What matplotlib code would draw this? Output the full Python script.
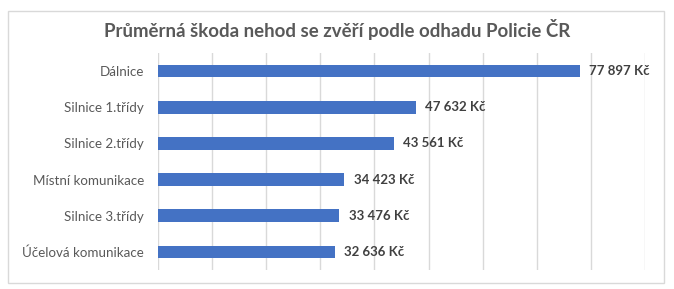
import matplotlib.pyplot as plt
from matplotlib.patches import Rectangle

# data
kategorie = ['Dálnice', 'Silnice 1.třídy', 'Silnice 2.třídy',
             'Místní komunikace', 'Silnice 3.třídy', 'Účelová komunikace']
skoda = [77897, 47632, 43561, 34423, 33476, 32636]

plt.rcParams['font.family'] = ['Lato', 'DejaVu Sans']

fig = plt.figure(figsize=(6.74, 2.89), dpi=100)
ax = fig.add_axes([158 / 674, 1 - 270 / 289, 487 / 674, 217 / 289])

# ramecek kolem grafu
fig.patches.append(Rectangle((8 / 674, 1 - 283 / 289), 656 / 674, 272 / 289,
                             transform=fig.transFigure, fill=False,
                             edgecolor='#d9d9d9', linewidth=1))

y = range(len(kategorie))
ax.barh(y, skoda, height=0.35, color='#4472C4', zorder=3)

for i, v in enumerate(skoda):
    txt = f'{v:,}'.replace(',', ' ') + ' Kč'
    ax.annotate(txt, (v, i), xytext=(7, 0), textcoords='offset points',
                va='center', ha='left', fontsize=9.5, fontweight='bold',
                color='#404040')

ax.set_xlim(0, 90000)
ax.set_ylim(5.5, -0.5)
ax.set_xticks(range(0, 90001, 10000))
ax.set_xticklabels([])
ax.set_yticks(list(y))
ax.set_yticklabels(kategorie, fontsize=9.6, color='#595959')
ax.tick_params(length=0, pad=10)
ax.grid(axis='x', color='#d9d9d9', linewidth=1, zorder=0)
for s in ax.spines.values():
    s.set_visible(False)

fig.text(0.5, 1 - 30 / 289, 'Průměrná škoda nehod se zvěří podle odhadu Policie ČR',
         ha='center', va='center', fontsize=13.4, fontweight='bold', color='#595959')

fig.savefig('out.png', dpi=100)
